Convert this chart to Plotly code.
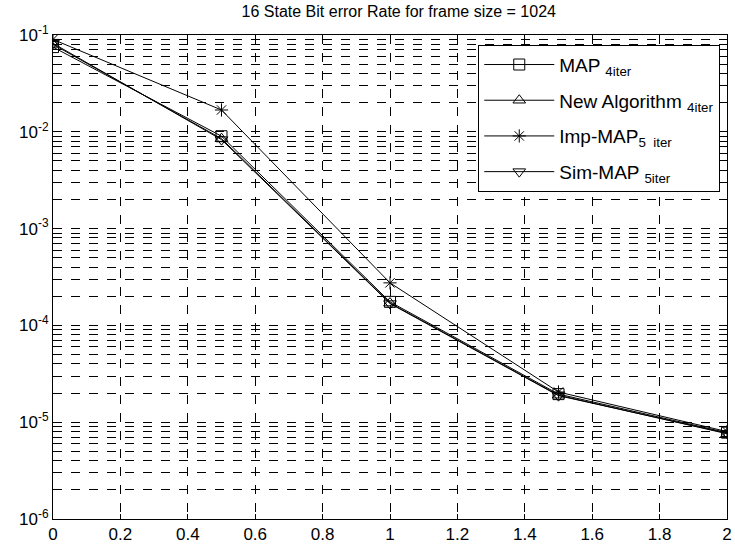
import plotly.graph_objects as go

snr = [0, 0.5, 1, 1.5, 2]
map_4iter = [0.075, 0.0090, 1.75e-4, 1.95e-5, 7.8e-6]
new_alg_4iter = [0.080, 0.0085, 1.70e-4, 1.90e-5, 7.6e-6]
imp_map_5iter = [0.090, 0.0168, 2.75e-4, 2.05e-5, 8.0e-6]
sim_map_5iter = [0.082, 0.0083, 1.68e-4, 1.88e-5, 7.7e-6]

names = ["MAP <sub>4iter</sub>", "New Algorithm <sub>4iter</sub>",
         "Imp-MAP<sub>5  iter</sub>", "Sim-MAP <sub>5iter</sub>"]
series = [map_4iter, new_alg_4iter, imp_map_5iter, sim_map_5iter]
symbols = ["square-open", "triangle-up-open", "asterisk-open", "triangle-down-open"]

x_ticks = [0, 0.2, 0.4, 0.6, 0.8, 1, 1.2, 1.4, 1.6, 1.8, 2]
x_text = ["0", "0.2", "0.4", "0.6", "0.8", "1", "1.2", "1.4", "1.6", "1.8", "2"]
y_ticks = [1e-6, 1e-5, 1e-4, 1e-3, 1e-2, 1e-1]
y_text = ["10<sup>-6</sup>", "10<sup>-5</sup>", "10<sup>-4</sup>",
          "10<sup>-3</sup>", "10<sup>-2</sup>", "10<sup>-1</sup>"]
minor_y = [m * 10.0 ** e for e in range(-6, -1) for m in range(2, 10)]

fig = go.Figure()
for i, (name, ys, sym) in enumerate(zip(names, series, symbols)):
    fig.add_trace(go.Scatter(
        x=snr, y=ys, name=name, mode="lines+markers", legendgroup=f"g{i}",
        line=dict(color="black", width=1),
        marker=dict(symbol=sym, size=11, color="black", line=dict(width=1, color="black")),
    ))

fig.update_layout(
    width=735, height=547,
    margin=dict(l=53, r=3, t=35, b=23),
    paper_bgcolor="white", plot_bgcolor="white",
    font=dict(family="Liberation Sans, Arial, sans-serif", color="black", size=16),
    title=dict(text="16 State Bit error Rate for frame size = 1024",
               x=0.513, xref="paper", xanchor="center", y=0.99, yanchor="top",
               font=dict(size=16)),
    legend=dict(x=0.99, xanchor="right", y=0.98, yanchor="top",
                bgcolor="white", bordercolor="black", borderwidth=1,
                font=dict(size=19), tracegroupgap=8, itemwidth=70),
    showlegend=True,
)
fig.update_xaxes(
    range=[0, 2], tickmode="array", tickvals=x_ticks, ticktext=x_text,
    showgrid=True, gridcolor="black", griddash="dash", gridwidth=1,
    showline=True, linecolor="black", linewidth=1, mirror="ticks",
    ticks="inside", ticklen=5, tickcolor="black", zeroline=False,
    tickfont=dict(size=17), ticklabeloverflow="allow",
)
fig.update_yaxes(
    type="log", range=[-6, -1], tickmode="array", tickvals=y_ticks, ticktext=y_text,
    showgrid=True, gridcolor="black", griddash="dash", gridwidth=1,
    showline=True, linecolor="black", linewidth=1, mirror="ticks",
    ticks="inside", ticklen=5, tickcolor="black", zeroline=False,
    tickfont=dict(size=17), ticklabeloverflow="allow",
    minor=dict(tickmode="array", tickvals=minor_y, showgrid=True,
               gridcolor="black", griddash="dash", gridwidth=1,
               ticks="inside", ticklen=3, tickcolor="black"),
)

fig.write_html("out.html")
